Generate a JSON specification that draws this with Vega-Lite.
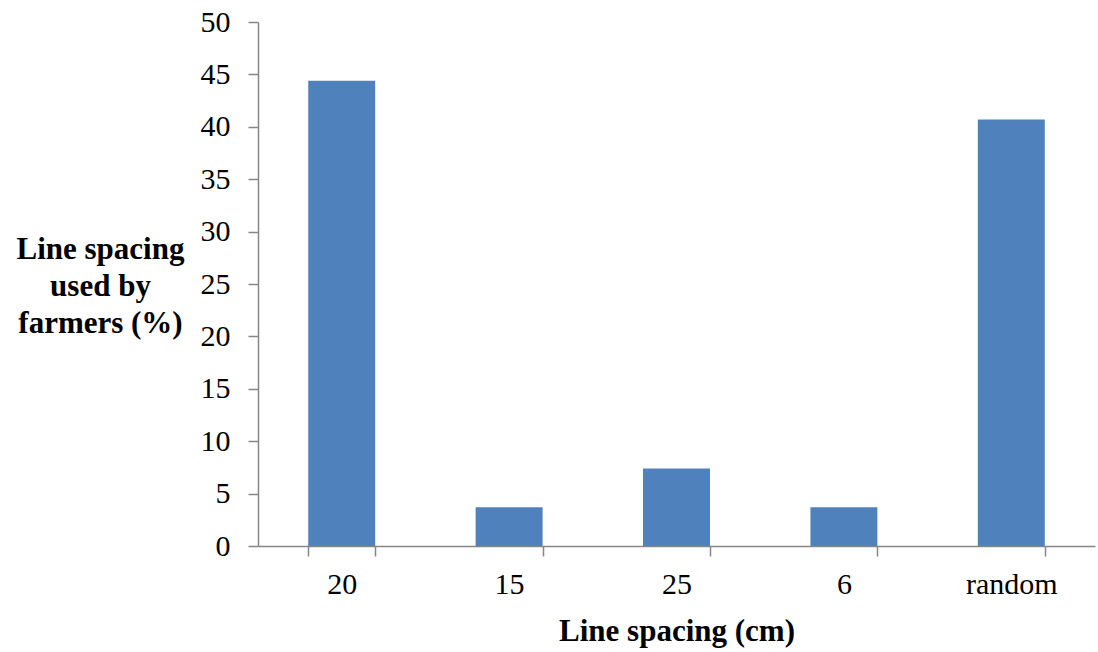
{
  "$schema": "https://vega.github.io/schema/vega-lite/v6.json",
  "width": 837,
  "height": 524,
  "autosize": {"type": "none"},
  "padding": {"left": 258, "top": 22, "right": 3, "bottom": 106},
  "background": "white",
  "config": {"view": {"stroke": null}},
  "data": {"values": [
    {"spacing": "20", "pct": 44.4},
    {"spacing": "15", "pct": 3.7},
    {"spacing": "25", "pct": 7.4},
    {"spacing": "6", "pct": 3.7},
    {"spacing": "random", "pct": 40.7}
  ]},
  "mark": {"type": "bar", "color": "#4F81BD"},
  "encoding": {
    "x": {
      "field": "spacing", "type": "nominal", "sort": null,
      "scale": {"paddingInner": 0.6, "paddingOuter": 0.3},
      "axis": {
        "title": "Line spacing (cm)",
        "labelAngle": 0,
        "labelFont": "Liberation Serif", "labelFontSize": 30, "labelColor": "#000",
        "titleFont": "Liberation Serif", "titleFontSize": 31, "titleFontWeight": "bold", "titleColor": "#000",
        "domainColor": "#868686", "tickColor": "#868686", "domainWidth": 1.5, "tickWidth": 1.5,
        "tickSize": 10, "tickBand": "extent", "labelPadding": 13, "titlePadding": 17
      }
    },
    "y": {
      "field": "pct", "type": "quantitative",
      "scale": {"domain": [0, 50], "nice": false},
      "axis": {
        "values": [0, 5, 10, 15, 20, 25, 30, 35, 40, 45, 50],
        "grid": false,
        "title": ["Line spacing", "used by", "farmers (%)"],
        "titleAngle": 0, "titleAlign": "center", "titleBaseline": "alphabetic",
        "titleX": -158, "titleY": 236, "titleLineHeight": 37,
        "labelFont": "Liberation Serif", "labelFontSize": 30, "labelColor": "#000",
        "titleFont": "Liberation Serif", "titleFontSize": 31, "titleFontWeight": "bold", "titleColor": "#000",
        "domainColor": "#868686", "tickColor": "#868686", "domainWidth": 1.5, "tickWidth": 1.5,
        "tickSize": 10, "labelPadding": 18
      }
    }
  }
}
